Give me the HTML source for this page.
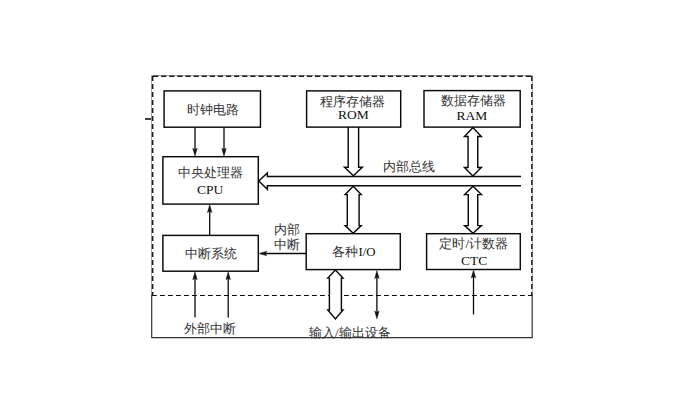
<!DOCTYPE html>
<html><head><meta charset="utf-8">
<style>
html,body{margin:0;padding:0;background:#fff;width:697px;height:412px;overflow:hidden}
svg{position:absolute;left:0;top:0}
text{font-family:"Liberation Serif",serif;font-size:12.8px;fill:#333}
text.l,tspan.l{fill:#111}
text.l{font-size:13.5px}
</style></head><body>
<svg width="697" height="412" viewBox="0 0 697 412">
<g fill="none" stroke="#0a0a0a" stroke-width="1.45">
<path d="M151.5,75.5 V296" stroke="#aaa" stroke-width="1"/>
<path d="M151.5,75.5 H532.5 V296" stroke="#aaa" stroke-width="1"/>
<path d="M152.6,76 V296" stroke="#1a1a1a" stroke-width="1.6" stroke-dasharray="5 3"/>
<path d="M152,76.2 H532" stroke="#1a1a1a" stroke-width="1.4" stroke-dasharray="5.3 2.8" stroke-dashoffset="-1"/>
<path d="M531.8,76 V296" stroke-width="1.3" stroke-dasharray="5 3"/>
<path d="M152,295.5 H532" stroke-width="1.1" stroke-dasharray="4.8 3.2"/>
<path d="M151.7,295 V337.6 H532.2 V295" stroke="#333" stroke-width="1.2"/>
<path d="M145,119 H151" stroke="#101020" stroke-width="1.6"/>
<rect x="164.1" y="90.9" width="96.35" height="36.30"/>
<rect x="306.6" y="90.9" width="94.10" height="36.20"/>
<rect x="424.0" y="90.6" width="96.20" height="36.50"/>
<rect x="162.9" y="156.7" width="95.40" height="47.40"/>
<rect x="162.9" y="235.4" width="95.40" height="35.80"/>
<rect x="306.2" y="233.7" width="94.10" height="35.90"/>
<rect x="426.6" y="233.7" width="93.70" height="35.80"/>
<path d="M521,176.5 H267.4 V173 L258.8,180.9 L267.4,189.3 V185.7 H521"/>
<path d="M348.2,127 V167.3 H344.5 L353.4,175.8 L362.3,167.3 H358.6 V127"/>
<path d="M347.30,194.60 H345.20 L353.20,186.20 L361.20,194.60 H359.10 V225.60 H361.20 L353.20,233.20 L345.20,225.60 H347.30 V194.60 Z"/>
<path d="M468.05,136.50 H464.50 L472.90,127.60 L481.30,136.50 H477.75 V167.50 H481.30 L472.90,176.00 L464.50,167.50 H468.05 V136.50 Z"/>
<path d="M468.25,194.60 H464.60 L473.00,186.20 L481.40,194.60 H477.75 V225.60 H481.40 L473.00,233.30 L464.60,225.60 H468.25 V194.60 Z"/>
<path d="M329.40,278.10 H327.80 L335.40,270.00 L343.00,278.10 H341.40 V310.00 H343.00 L335.40,318.90 L327.80,310.00 H329.40 V278.10 Z" fill="#fff"/>
<path stroke-width="1.3" d="M195,127.5 V150 M224,127.5 V150 M209.7,235 V210 M306,253.5 H265 M195,317.5 V278 M228.2,317.5 V278 M473.5,314.5 V276 M376.9,276 V313"/>
</g>
<g fill="#111" stroke="#111" stroke-width="0.4">
<path d="M195.00,156.20 L192.70,148.20 L195.00,149.70 L197.30,148.20 Z"/>
<path d="M224.00,156.20 L221.70,148.20 L224.00,149.70 L226.30,148.20 Z"/>
<path d="M209.70,204.60 L212.00,212.60 L209.70,211.10 L207.40,212.60 Z"/>
<path d="M258.80,253.50 L266.80,251.20 L265.30,253.50 L266.80,255.80 Z"/>
<path d="M195.00,271.80 L197.30,279.80 L195.00,278.30 L192.70,279.80 Z"/>
<path d="M228.20,271.80 L230.50,279.80 L228.20,278.30 L225.90,279.80 Z"/>
<path d="M473.50,270.00 L475.80,278.00 L473.50,276.50 L471.20,278.00 Z"/>
<path d="M376.90,270.60 L379.20,278.60 L376.90,277.10 L374.60,278.60 Z"/>
<path d="M376.90,318.90 L374.60,310.90 L376.90,312.40 L379.20,310.90 Z"/>
</g>
<g text-anchor="middle"><text class="" x="212.98" y="113.78">时钟电路</text>
<text class="" x="352.55" y="105.73">程序存储器</text>
<text class="l" x="353.34" y="119.33">ROM</text>
<text class="" x="473.04" y="105.42">数据存储器</text>
<text class="l" x="471.82" y="120.41">RAM</text>
<text class="" x="210.72" y="177.14">中央处理器</text>
<text class="l" x="210.09" y="193.63">CPU</text>
<text class="" x="409.37" y="171.41">内部总线</text>
<text class="" x="210.78" y="258.00">中断系统</text>
<text class="" x="354.00" y="256.14">各种<tspan class="l">I/O</tspan></text>
<text class="" x="473.73" y="247.91">定时<tspan class="l">/</tspan>计数器</text>
<text class="l" x="474.18" y="264.63">CTC</text>
<text class="" x="286.64" y="234.10">内部</text>
<text class="" x="286.64" y="249.32">中断</text>
<text class="" x="210.09" y="332.79">外部中断</text>
<text class="" x="349.72" y="336.59">输入<tspan class="l">/</tspan>输出设备</text></g>
</svg>
</body></html>
